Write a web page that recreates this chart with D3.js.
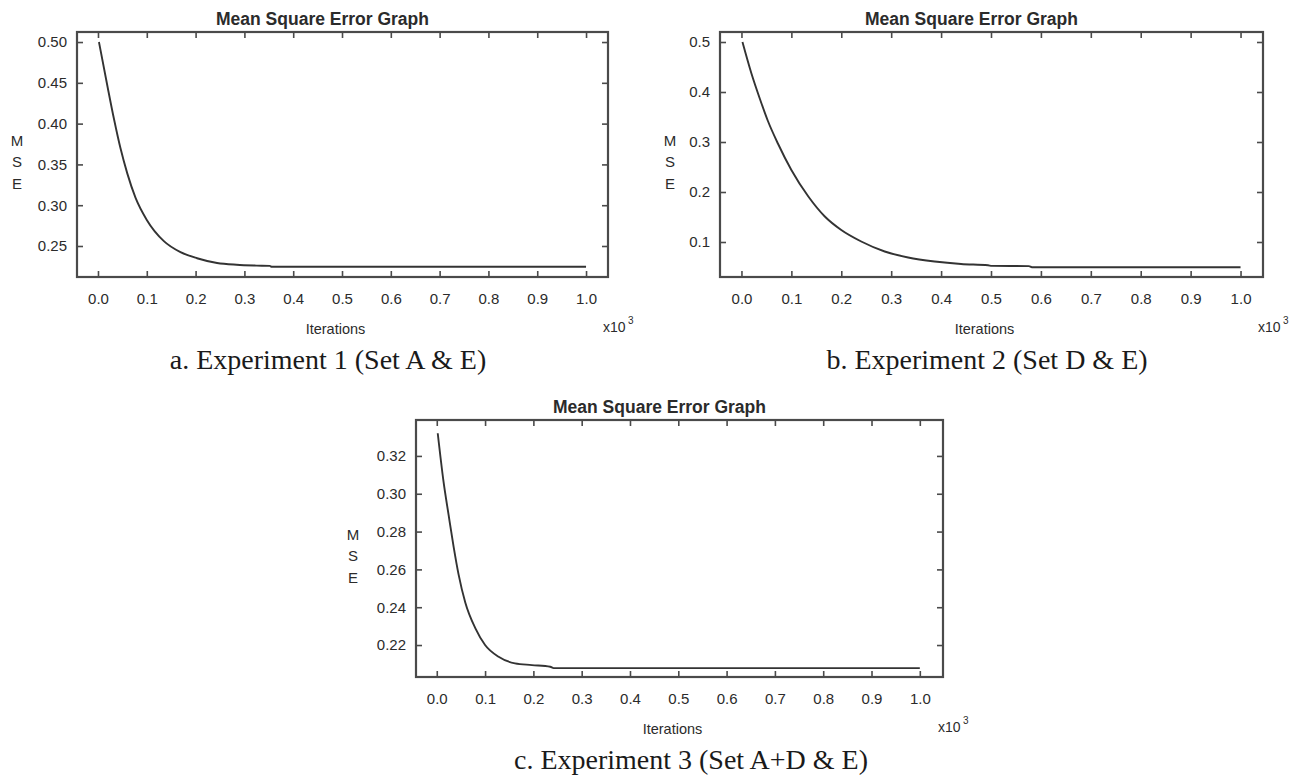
<!DOCTYPE html>
<html>
<head>
<meta charset="utf-8">
<script src="https://cdn.jsdelivr.net/npm/d3@7"></script>
<style>
	body { margin: 0; background: #fff; }
	svg { display: block; }
	text { font-family: "Liberation Sans", Arial, sans-serif; fill: #2b2b2b; }
	.caption { font-family: "Liberation Serif", "Times New Roman", serif; fill: #1a1a1a; }
</style>
</head>
<body>
<svg id="chart" width="1300" height="778"></svg>
<script>
// iterations in thousands (axis says x10^3)
const iterTicks = [0, 0.1, 0.2, 0.3, 0.4, 0.5, 0.6, 0.7, 0.8, 0.9, 1.0]

// experiment 1 (set A & E)
const itersA = [0.002, 0.019, 0.033, 0.046, 0.06, 0.077, 0.10, 0.135, 0.169, 0.203, 0.244, 0.284, 0.325, 0.352, 0.356, 1.0]
const mseA = [0.500, 0.447, 0.405, 0.370, 0.339, 0.309, 0.282, 0.256, 0.2425, 0.2350, 0.2292, 0.2270, 0.2260, 0.2256, 0.2245, 0.2245]
const yTicksA = [0.25, 0.30, 0.35, 0.40, 0.45, 0.50]

// experiment 2 (set D & E)
const itersB = [0.002, 0.02, 0.037, 0.053, 0.073, 0.10, 0.134, 0.167, 0.20, 0.24, 0.287, 0.334, 0.387, 0.44, 0.494, 0.502, 0.576, 0.582, 1.0]
const mseB = [0.500, 0.437, 0.386, 0.342, 0.297, 0.244, 0.191, 0.151, 0.124, 0.101, 0.081, 0.069, 0.061, 0.056, 0.0535, 0.0522, 0.0518, 0.0495, 0.0495]
const yTicksB = [0.1, 0.2, 0.3, 0.4, 0.5]

// experiment 3 (set A+D & E)
const itersC = [0.002, 0.014, 0.0245, 0.035, 0.045, 0.059, 0.080, 0.100, 0.128, 0.162, 0.197, 0.235, 0.242, 1.0]
const mseC = [0.332, 0.3064, 0.2888, 0.2718, 0.2575, 0.2425, 0.2288, 0.2200, 0.2138, 0.2103, 0.2094, 0.2085, 0.2078, 0.2078]
const yTicksC = [0.22, 0.24, 0.26, 0.28, 0.30, 0.32]

const titleText = 'Mean Square Error Graph'
const xLabel = 'Iterations'
const yLabel = ['M', 'S', 'E']
const captions = ['a. Experiment 1 (Set A & E)', 'b. Experiment 2 (Set D & E)', 'c. Experiment 3 (Set A+D & E)']

let panels = [
	{
		iters: itersA, mse: mseA, yTicks: yTicksA, yFmt: '.2f',
		xDomain: [-0.043, 1.045], yDomain: [0.212, 0.5123],
		box: { x: 77, y: 32, w: 531, h: 245 },
		mseX: 17, captionX: 328, caption: captions[0]
	},
	{
		iters: itersB, mse: mseB, yTicks: yTicksB, yFmt: '.1f',
		xDomain: [-0.043, 1.045], yDomain: [0.03, 0.52],
		box: { x: 720, y: 32, w: 543, h: 245 },
		mseX: 670, captionX: 987, caption: captions[1]
	},
	{
		iters: itersC, mse: mseC, yTicks: yTicksC, yFmt: '.2f',
		xDomain: [-0.043, 1.048], yDomain: [0.2031, 0.339],
		box: { x: 416, y: 420, w: 527, h: 257 },
		mseX: 353, captionX: 691, caption: captions[2]
	}
]

const svg = d3.select('#chart')
const frameColor = '#4a4a4a'

function drawPanel(p) {
	let b = p.box
	let xScale = d3.scaleLinear().domain(p.xDomain).range([b.x, b.x + b.w])
	let yScale = d3.scaleLinear().domain(p.yDomain).range([b.y + b.h, b.y])
	let g = svg.append('g')

	// ticks on all four sides, pointing inward
	let bottomAxis = d3.axisBottom(xScale).tickValues(iterTicks).tickFormat(d3.format('.1f'))
		.tickSizeInner(-6).tickSizeOuter(0).tickPadding(16)
	let topAxis = d3.axisTop(xScale).tickValues(iterTicks).tickFormat('')
		.tickSizeInner(-6).tickSizeOuter(0)
	let leftAxis = d3.axisLeft(yScale).tickValues(p.yTicks).tickFormat(d3.format(p.yFmt))
		.tickSizeInner(-6).tickSizeOuter(0).tickPadding(10)
	let rightAxis = d3.axisRight(yScale).tickValues(p.yTicks).tickFormat('')
		.tickSizeInner(-6).tickSizeOuter(0)

	let axes = [
		[bottomAxis, `translate(0,${b.y + b.h})`],
		[topAxis, `translate(0,${b.y})`],
		[leftAxis, `translate(${b.x},0)`],
		[rightAxis, `translate(${b.x + b.w},0)`]
	]
	axes.forEach(([axis, tr]) => {
		let ag = g.append('g').attr('transform', tr).call(axis)
		ag.select('.domain').remove()
		ag.selectAll('.tick line').attr('stroke', frameColor).attr('stroke-width', 1.6)
		ag.selectAll('.tick text')
			.attr('fill', '#2b2b2b')
			.style('font-size', '15px')
			.style('font-family', '"Liberation Sans", Arial, sans-serif')
	})

	g.append('rect')
		.attr('x', b.x).attr('y', b.y)
		.attr('width', b.w).attr('height', b.h)
		.attr('fill', 'none')
		.attr('stroke', frameColor)
		.attr('stroke-width', 2.2)

	let pts = p.iters.map((d, i) => [d, p.mse[i]])
	let line = d3.line()
		.x(d => xScale(d[0]))
		.y(d => yScale(d[1]))
		.curve(d3.curveMonotoneX)
	g.append('path')
		.datum(pts)
		.attr('d', line)
		.attr('fill', 'none')
		.attr('stroke', '#333')
		.attr('stroke-width', 1.9)

	let cx = b.x + b.w / 2
	g.append('text')
		.attr('x', cx - 20).attr('y', b.y - 7)
		.attr('text-anchor', 'middle')
		.style('font-size', '17.5px')
		.style('font-weight', 'bold')
		.attr('fill', '#111')
		.text(titleText)

	let cy = b.y + b.h / 2
	yLabel.forEach((ch, i) => {
		g.append('text')
			.attr('x', p.mseX).attr('y', cy - 14 + i * 21.5)
			.attr('dy', '0.35em')
			.attr('text-anchor', 'middle')
			.style('font-size', '15px')
			.text(ch)
	})

	g.append('text')
		.attr('x', cx - 7).attr('y', b.y + b.h + 57)
		.attr('text-anchor', 'middle')
		.style('font-size', '14.5px')
		.text(xLabel)

	let ex = b.x + b.w - 5
	g.append('text')
		.attr('x', ex).attr('y', b.y + b.h + 55)
		.style('font-size', '14px')
		.text('x10')
	g.append('text')
		.attr('x', ex + 25).attr('y', b.y + b.h + 47)
		.style('font-size', '10px')
		.text('3')

	g.append('text')
		.attr('class', 'caption')
		.attr('x', p.captionX).attr('y', b.y + b.h + 92)
		.attr('text-anchor', 'middle')
		.style('font-size', '28px')
		.text(p.caption)
}

panels.forEach(drawPanel)
</script>
</body>
</html>
